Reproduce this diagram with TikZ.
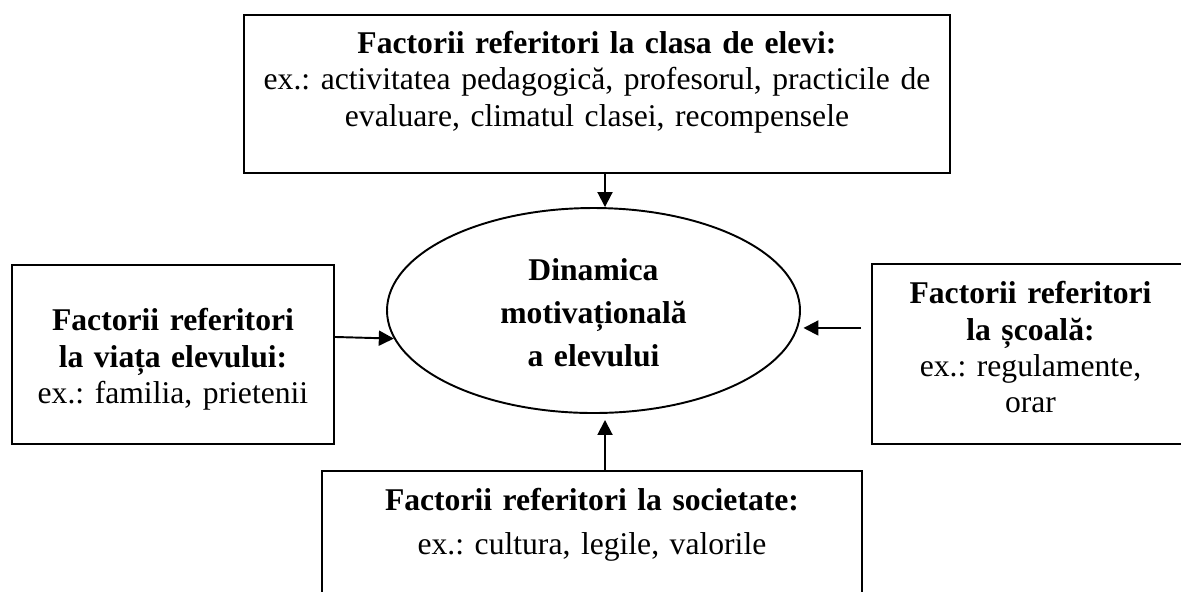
\documentclass[tikz,border=0pt]{standalone}
\usepackage{fontspec}
\setmainfont{Liberation Serif}
\usetikzlibrary{shapes.geometric, arrows.meta}
\frenchspacing

\tikzset{
	factor/.style={draw, line width=1.1pt, inner sep=0pt, align=center, anchor=north west, font=\fontsize{18pt}{20.5pt}\selectfont},
	arr/.style={line width=1.1pt, -{Triangle[length=0.3cm,width=0.3cm]}}
}

\begin{document}
\begin{tikzpicture}
	\useasboundingbox (0,0) rectangle (23.62,-11.82);
	\node[factor, text width=14.12cm, text height=0.78cm, text depth=2.38cm] (clasa) at (4.86,-0.28) {\textbf{Factorii referitori la clasa de elevi:}\\ ex.: activitatea pedagogică, profesorul, practicile de\\ evaluare, climatul clasei, recompensele};
	\node[factor, text width=6.44cm, text height=1.32cm, text depth=2.26cm] (viata) at (0.22,-5.28) {\textbf{Factorii referitori}\\ \textbf{la viața elevului:}\\ ex.: familia, prietenii};
	\node[factor, text width=6.34cm, text height=0.8cm, text depth=2.8cm] (scoala) at (17.42,-5.26) {\textbf{Factorii referitori}\\ \textbf{la școală:}\\ ex.: regulamente,\\ orar};
	\node[factor, text width=10.8cm, text height=0.8cm, text depth=1.8cm, font=\fontsize{18pt}{24.5pt}\selectfont] (societate) at (6.42,-9.4) {\textbf{Factorii referitori la societate:}\\ ex.: cultura, legile, valorile};
	\node[ellipse, draw, line width=1.1pt, inner sep=0pt, minimum width=8.26cm, minimum height=4.1cm, align=center, text width=5cm, text height=0.39cm, text depth=1.61cm, font=\bfseries\fontsize{18pt}{24.5pt}\selectfont] (dinamica) at (11.87,-6.21) {Dinamica\\ motivațională\\ a elevului};
	\coordinate (sc) at ([xshift=-0.2cm, yshift=0.52cm]scoala.west);
	\draw [arr] (12.1,0 |- clasa.south) to (12.1,0 |- dinamica.north);
	\draw [arr] ([yshift=0.35cm]viata.east) to (dinamica.188);
	\draw [arr, shorten >=0.05cm] (sc) to (sc -| dinamica.east);
	\draw [arr, shorten >=0.12cm] (12.1,0 |- societate.north) to (12.1,0 |- dinamica.south);
\end{tikzpicture}
\end{document}
